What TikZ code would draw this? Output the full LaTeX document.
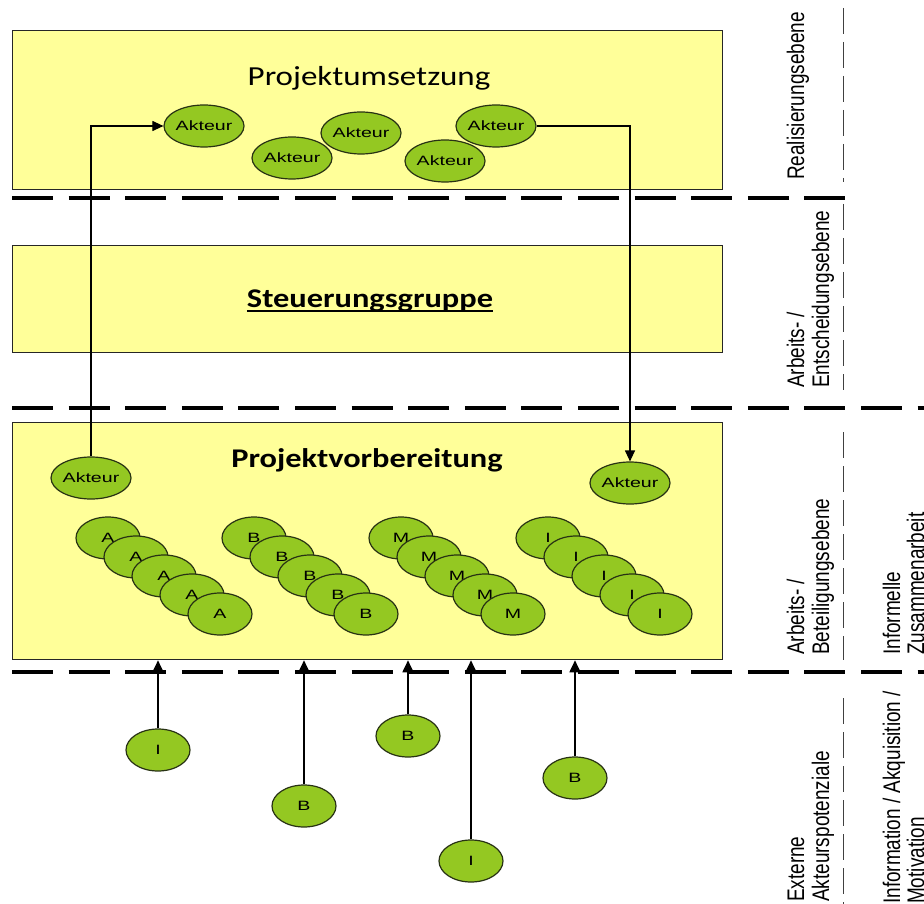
\documentclass[tikz,border=0pt]{standalone}
\usepackage{fontspec}
\usetikzlibrary{arrows.meta,shapes.geometric}
\newfontfamily\titlefont[FakeStretch=1.2]{Carlito}
\newfontfamily\sidefont[FakeStretch=0.79]{Liberation Sans}
\newfontfamily\nodefont[FakeStretch=1.45]{Liberation Sans}
\definecolor{boxyellow}{RGB}{255,255,153}
\definecolor{actorgreen}{RGB}{148,200,34}
\definecolor{actorline}{RGB}{40,50,20}

\begin{document}
\begin{tikzpicture}[x=1pt,y=-1pt,
  levelbox/.style={draw=black!85,line width=1.3pt,fill=boxyellow,inner sep=0pt,
    minimum width=710pt,anchor=north west},
  levelrule/.style={line width=4.5pt,dash pattern=on 41pt off 15.6pt},
  siderule/.style={line width=0.9pt,black!75,dash pattern=on 26pt off 8pt},
  actor/.style={ellipse,draw=actorline,line width=1.2pt,fill=actorgreen,
    minimum width=64pt,minimum height=42pt,inner sep=0pt,
    font=\nodefont\fontsize{13.5}{15}\selectfont},
  sidelabel/.style={rotate=90,anchor=mid west,inner sep=0pt,
    font=\sidefont\fontsize{24}{25}\selectfont},
  title/.style={font=\titlefont\fontsize{27.5}{30}\selectfont,inner sep=0pt},
  link/.style={line width=1.2pt,-{Triangle[length=11pt,width=10pt]}},
  feed/.style={line width=1.8pt,-{Triangle[length=12pt,width=11pt]}},
]
\useasboundingbox (0,0) rectangle (924,904);
\clip (0,0) rectangle (924,904);

% the three levels
\node[levelbox,minimum height=159pt] (umsetz) at (12,30) {};
\node[levelbox,minimum height=107pt] (steuer) at (12,245) {};
\node[levelbox,minimum height=237pt] (vorb) at (12,422) {};

% level separators
\draw[levelrule] (12,198) -- (846,198);
\draw[levelrule] (12,408) -- (930,408);
\draw[levelrule] (12,672) -- (930,672);

% column separator of the side labels
\draw[siderule] (843,8) -- (843,182);
\draw[siderule] (843,204) -- (843,390);
\draw[siderule] (843,432) -- (843,660);
\draw[siderule] (843,698) -- (843,904);

% titles
\node[title] (tumsetz) at (369,78) {Projektumsetzung};
\node[title,font=\titlefont\bfseries\fontsize{27}{30}\selectfont,anchor=base] (tsteuer) at (370,307) {Steuerungsgruppe};
\draw[line width=1.6pt] ([yshift=-4pt]tsteuer.base west) -- ([yshift=-4pt]tsteuer.base east);
\node[title,font=\titlefont\bfseries\fontsize{27}{30}\selectfont] (tvorb) at (367,460) {Projektvorbereitung};

% actors of the realisation level
\node[actor] (act1) at (204,126) {Akteur};
\node[actor] (act2) at (292,158) {Akteur};
\node[actor] (act3) at (361,133) {Akteur};
\node[actor] (act4) at (445,161) {Akteur};
\node[actor] (act5) at (496,126) {Akteur};

% actors of the preparation level
\node[actor] (actL) at (91,478) {Akteur};
\node[actor] (actR) at (630,483) {Akteur};

\foreach \g/\x in {A/108,B/254,M/401,I/548} {
  \foreach \k in {0,...,4} {
    \node[actor] (\g\k) at ({\x+28*\k},{538+19*\k}) {\g};
  }
}

% external actors
\node[actor] (xi1) at (158,750) {I};
\node[actor] (xb1) at (304,806) {B};
\node[actor] (xb2) at (408,736) {B};
\node[actor] (xi2) at (471,861) {I};
\node[actor] (xb3) at (575,778) {B};
\foreach \n in {xi1,xb1,xb2,xi2,xb3}
  \draw[feed] (\n.north) -- (\n.north |- vorb.south);

% actors moving between the levels
\draw[link] (actL.north) |- (act1.west);
\draw[link] (act5.east) -| (actR.north);

% side labels
\node[sidelabel] (lreal) at (802,180) {Realisierungsebene};
\node[sidelabel] (lentA) at (802,388) {Arbeits- /};
\node[sidelabel] (lentB) at (827,388) {Entscheidungsebene};
\node[sidelabel] (lbetA) at (802,655) {Arbeits- /};
\node[sidelabel] (lbetB) at (827,655) {Beteiligungsebene};
\node[sidelabel] (linfA) at (898,655) {Informelle};
\node[sidelabel] (linfB) at (922,655) {Zusammenarbeit};
\node[sidelabel] (lextA) at (802,902) {Externe};
\node[sidelabel] (lextB) at (827,902) {Akteurspotenziale};
\node[sidelabel] (lmotA) at (898,904) {Information / Akquisition /};
\node[sidelabel] (lmotB) at (922,904) {Motivation};
\end{tikzpicture}
\end{document}
